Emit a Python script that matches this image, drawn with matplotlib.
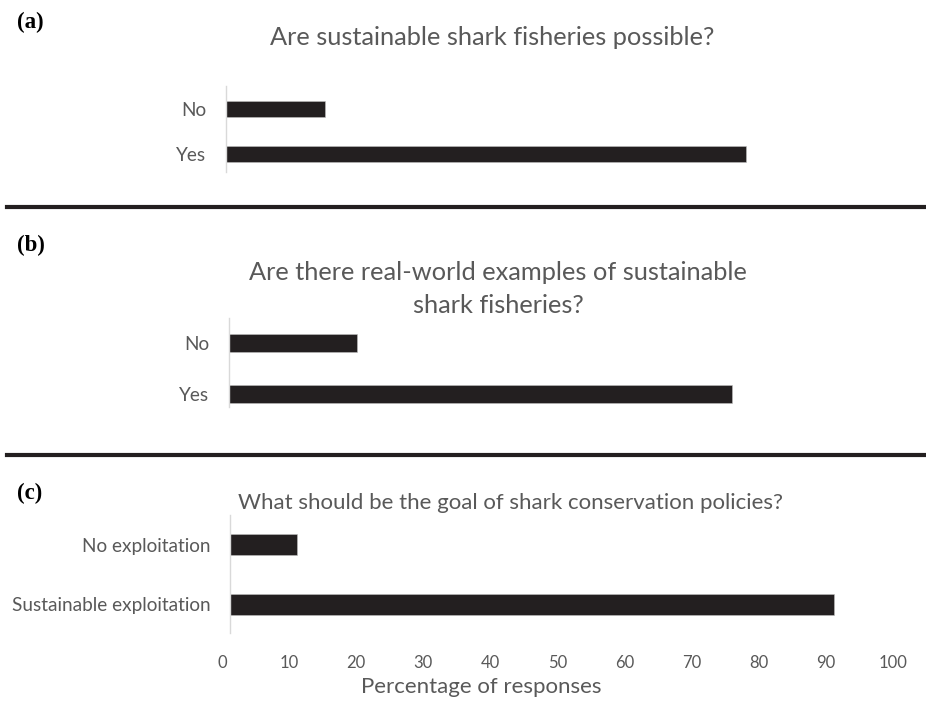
import matplotlib
matplotlib.use("Agg")
import matplotlib.pyplot as plt
import matplotlib.transforms as mtransforms
from matplotlib.lines import Line2D

# data
cats_a = ["Yes", "No"]
vals_a = [77.5, 14.8]
cats_b = ["Yes", "No"]
vals_b = [75.0, 19.1]
cats_c = ["Sustainable exploitation", "No exploitation"]
vals_c = [90.0, 10.0]
xticks_c = [0, 10, 20, 30, 40, 50, 60, 70, 80, 90, 100]

title_a = "Are sustainable shark fisheries possible?"
title_b = ["Are there real-world examples of sustainable", "shark fisheries?"]
title_c = "What should be the goal of shark conservation policies?"
xlabel_c = "Percentage of responses"

W, H = 926, 701
BAR = "#231f20"
GREY = "#595959"
FONT = "Lato"

fig = plt.figure(figsize=(W / 100, H / 100), dpi=100)


def box(left, top, right, bottom):
    return [left / W, 1 - bottom / H, (right - left) / W, (bottom - top) / H]


def panel(rect, cats, vals, ylim):
    ax = fig.add_axes(rect)
    ax.barh(range(len(cats)), vals, height=0.35, color=BAR,
            edgecolor="#bfbfbf", linewidth=0.4)
    ax.set_xlim(0, 100)
    ax.set_ylim(*ylim)
    ax.set_yticks(range(len(cats)))
    ax.set_yticklabels(cats, fontsize=13.7, color=GREY, family=FONT)
    ax.tick_params(axis="y", length=0, pad=14)
    for s in ["top", "right", "bottom"]:
        ax.spines[s].set_visible(False)
    ax.spines["left"].set_color("#d9d9d9")
    ax.spines["left"].set_linewidth(1.0)
    ax.set_xticks([])
    ax.patch.set_alpha(0)
    return ax


ax_a = panel(box(226, 86, 897, 172), cats_a, vals_a, (-0.397, 1.501))
ax_b = panel(box(229, 318, 900, 407), cats_b, vals_b, (-0.256, 1.494))
ax_c = panel(box(230, 515, 901, 633), cats_c, vals_c, (-0.48, 1.50))

ax_c.set_xticks(xticks_c)
ax_c.set_xticklabels([str(t) for t in xticks_c], fontsize=12, color=GREY, family=FONT)
ax_c.tick_params(axis="x", length=0, pad=16)
shift = mtransforms.ScaledTranslation(-8 / 100, 0, fig.dpi_scale_trans)
for lab in ax_c.get_xticklabels():
    lab.set_transform(lab.get_transform() + shift)

# titles
fig.text(492 / W, 1 - 45 / H, title_a, ha="center", va="baseline",
         fontsize=18.3, color=GREY, family=FONT)
fig.text(498 / W, 1 - 280 / H, title_b[0], ha="center", va="baseline",
         fontsize=18.3, color=GREY, family=FONT)
fig.text(498 / W, 1 - 313 / H, title_b[1], ha="center", va="baseline",
         fontsize=18.3, color=GREY, family=FONT)
fig.text(511 / W, 1 - 509 / H, title_c, ha="center", va="baseline",
         fontsize=16, color=GREY, family=FONT)
fig.text(481 / W, 1 - 693 / H, xlabel_c, ha="center", va="baseline",
         fontsize=16, color=GREY, family=FONT)

# panel letters
for lab, yb in [("(a)", 28), ("(b)", 251), ("(c)", 499)]:
    fig.text(17 / W, 1 - yb / H, lab, ha="left", va="baseline",
             fontsize=16.5, fontweight="bold", family="Liberation Serif", color="black")

# separators
for yy in [207, 455]:
    fig.add_artist(Line2D([7 / W, 1], [1 - yy / H, 1 - yy / H],
                          transform=fig.transFigure, color=BAR, lw=3))

fig.savefig("out.png", dpi=100)
